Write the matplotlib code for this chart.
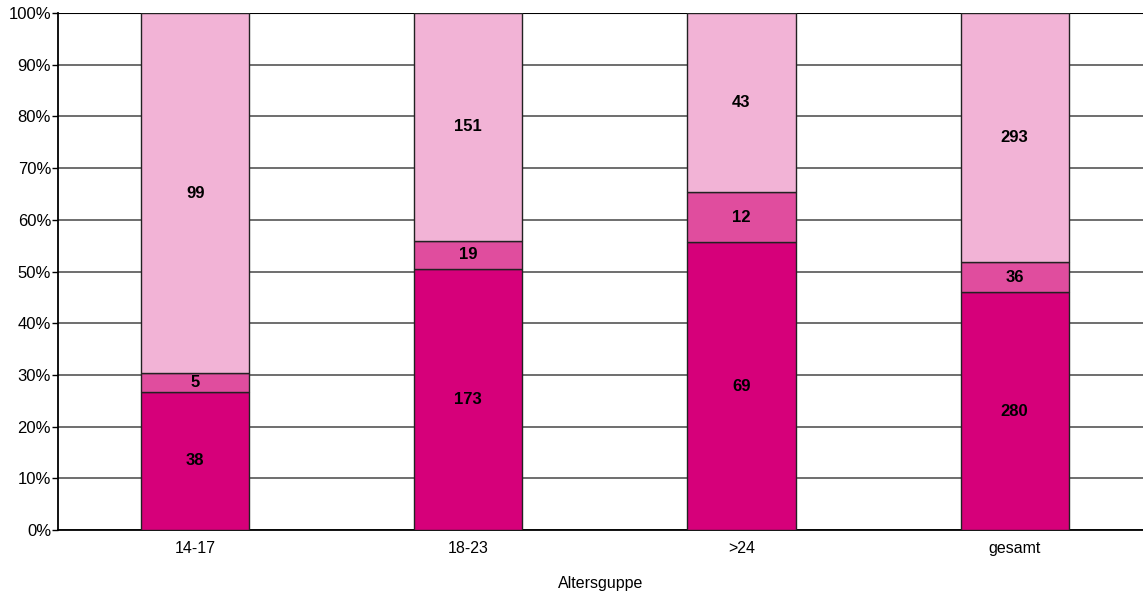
import matplotlib
matplotlib.use("Agg")
import matplotlib.pyplot as plt
import numpy as np

categories = ["14-17", "18-23", ">24", "gesamt"]
series_bottom = [38, 173, 69, 280]
series_middle = [5, 19, 12, 36]
series_top = [99, 151, 43, 293]
colors = ["#D6007A", "#E04D9E", "#F2B3D6"]
y_ticks = [0, 10, 20, 30, 40, 50, 60, 70, 80, 90, 100]

plt.rcParams['font.family'] = ['Liberation Sans', 'DejaVu Sans']

fig = plt.figure(figsize=(11.43, 5.92), dpi=100)
ax = fig.add_axes([58/1143, 62/592, 1 - 58/1143, (530-13)/592])

data = np.array([series_bottom, series_middle, series_top], dtype=float)
totals = data.sum(axis=0)
pct = data / totals * 100
x = np.arange(len(categories))
bottom = np.zeros(len(categories))
for i in range(3):
    ax.bar(x, pct[i], bottom=bottom, width=0.396, color=colors[i],
           edgecolor="#222222", linewidth=1.0, zorder=3)
    for j in range(len(categories)):
        ax.text(x[j], bottom[j] + pct[i][j] / 2, str(int(data[i][j])),
                ha="center", va="center", fontsize=12, fontweight="bold",
                color="black", zorder=4)
    bottom += pct[i]

ax.set_xlim(-0.502, 3.47)
ax.set_ylim(0, 100)
ax.set_yticks(y_ticks)
ax.set_yticklabels([f"{v}%" for v in y_ticks], fontsize=12)
ax.set_xticks(x)
ax.set_xticklabels(categories, fontsize=11.5)
ax.tick_params(axis="x", length=0, pad=8)
ax.tick_params(axis="y", length=4, width=1, pad=1)
ax.yaxis.grid(True, color="#555555", linewidth=1.2, zorder=0)
ax.set_axisbelow(True)
ax.spines["right"].set_visible(False)
ax.spines["top"].set_visible(False)
ax.axhline(100, color="black", linewidth=1.5, zorder=2)
ax.spines["left"].set_linewidth(1.3)
ax.spines["bottom"].set_linewidth(1.3)
ax.set_xlabel("Altersguppe", fontsize=11.5, labelpad=14)

fig.savefig("out.png", dpi=100)
